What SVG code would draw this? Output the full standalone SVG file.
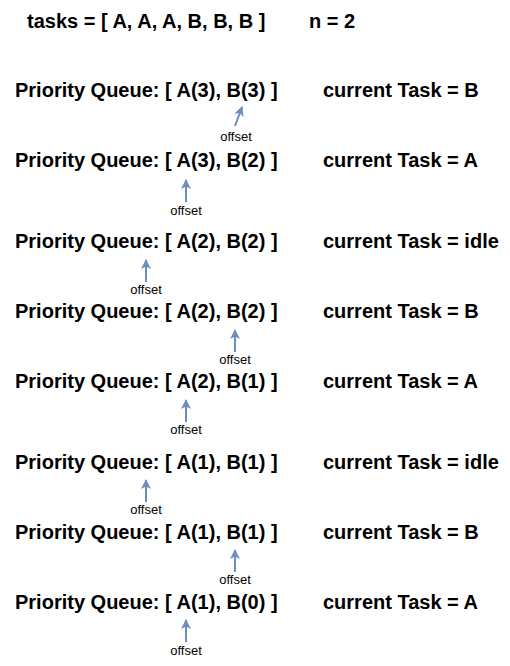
<svg xmlns="http://www.w3.org/2000/svg" width="510" height="666" viewBox="0 0 510 666">
  <defs>
    <marker id="head" viewBox="0 0 10 10" refX="9" refY="5" markerWidth="10" markerHeight="10" markerUnits="userSpaceOnUse" orient="auto">
      <path d="M0,0 L10,5 L0,10 L2.5,5 Z" fill="#6c8ebf"/>
    </marker>
  </defs>
  <style>
    .big { font-family: "Liberation Sans", Arial, sans-serif; font-size: 20px; font-weight: bold; fill: #000; }
    .small { font-family: "Liberation Sans", Arial, sans-serif; font-size: 13px; fill: #000; text-anchor: middle; }
    .ptr { stroke: #6c8ebf; stroke-width: 2; fill: none; marker-end: url(#head); }
  </style>
  <rect width="510" height="666" fill="#fff"/>

  <g id="header">
    <text class="big" x="27" y="28">tasks = [ A, A, A, B, B, B ]</text>
    <text class="big" x="309" y="28">n = 2</text>
  </g>

  <g id="row1">
    <text class="big" x="15" y="97">Priority Queue: [ A(3), B(3) ]</text>
    <text class="big" x="323" y="97">current Task = B</text>
  </g>
  <g id="row2">
    <text class="big" x="15" y="167">Priority Queue: [ A(3), B(2) ]</text>
    <text class="big" x="323" y="167">current Task = A</text>
  </g>
  <g id="row3">
    <text class="big" x="15" y="248">Priority Queue: [ A(2), B(2) ]</text>
    <text class="big" x="323" y="248">current Task = idle</text>
  </g>
  <g id="row4">
    <text class="big" x="15" y="318">Priority Queue: [ A(2), B(2) ]</text>
    <text class="big" x="323" y="318">current Task = B</text>
  </g>
  <g id="row5">
    <text class="big" x="15" y="388">Priority Queue: [ A(2), B(1) ]</text>
    <text class="big" x="323" y="388">current Task = A</text>
  </g>
  <g id="row6">
    <text class="big" x="15" y="469">Priority Queue: [ A(1), B(1) ]</text>
    <text class="big" x="323" y="469">current Task = idle</text>
  </g>
  <g id="row7">
    <text class="big" x="15" y="539">Priority Queue: [ A(1), B(1) ]</text>
    <text class="big" x="323" y="539">current Task = B</text>
  </g>
  <g id="row8">
    <text class="big" x="15" y="609">Priority Queue: [ A(1), B(0) ]</text>
    <text class="big" x="323" y="609">current Task = A</text>
  </g>

  <g id="connectors">
    <line class="ptr" x1="235" y1="126" x2="242" y2="107"/>
    <line class="ptr" x1="186" y1="202" x2="186" y2="180"/>
    <line class="ptr" x1="146" y1="282" x2="146" y2="260"/>
    <line class="ptr" x1="235" y1="352" x2="235" y2="330"/>
    <line class="ptr" x1="186" y1="422" x2="186" y2="400"/>
    <line class="ptr" x1="146" y1="502" x2="146" y2="480"/>
    <line class="ptr" x1="235" y1="572" x2="235" y2="550"/>
    <line class="ptr" x1="186" y1="642" x2="186" y2="620"/>
  </g>

  <g id="labels">
    <text class="small" x="236" y="141">offset</text>
    <text class="small" x="186" y="215">offset</text>
    <text class="small" x="146" y="294">offset</text>
    <text class="small" x="235" y="364">offset</text>
    <text class="small" x="186" y="434">offset</text>
    <text class="small" x="146" y="514">offset</text>
    <text class="small" x="235" y="584">offset</text>
    <text class="small" x="186" y="655">offset</text>
  </g>
</svg>
